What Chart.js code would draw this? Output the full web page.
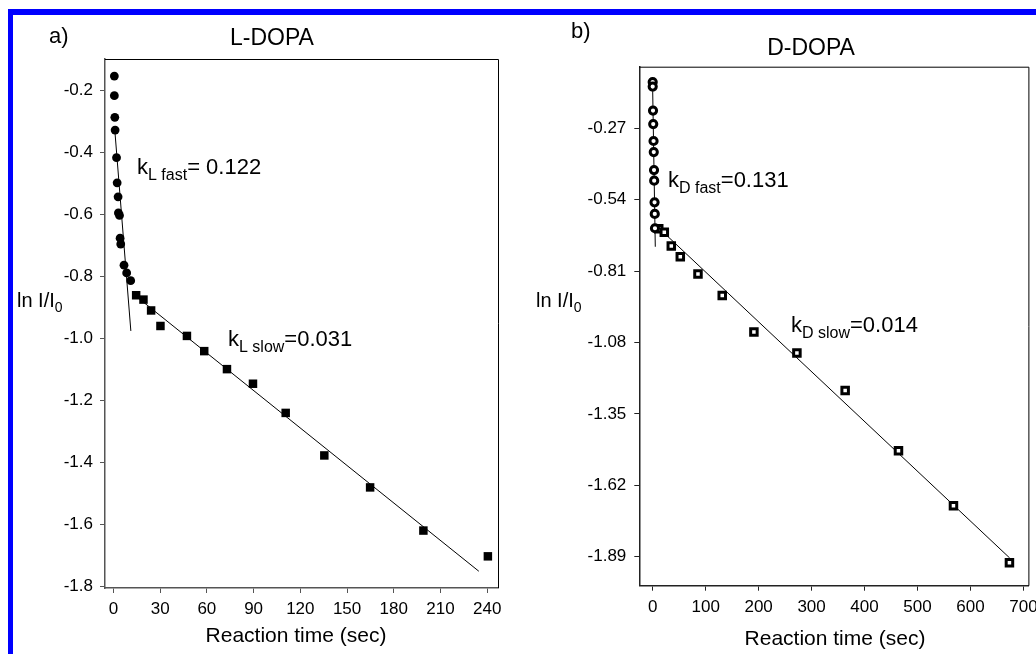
<!DOCTYPE html>
<html><head><meta charset="utf-8">
<script src="https://cdn.jsdelivr.net/npm/chart.js@4.4.0/dist/chart.umd.min.js"></script>
<style>
html,body{margin:0;padding:0;background:#fff;overflow:hidden;width:1036px;height:654px;position:relative;}
#frame{position:absolute;left:8px;top:9px;width:1100px;height:700px;border-left:5px solid #0000ff;border-top:6px solid #0000ff;box-sizing:border-box;}
canvas{position:absolute;top:0;}
</style></head><body>
<div id="frame"></div>
<canvas id="c1" width="518" height="654" style="left:0"></canvas>
<canvas id="c2" width="518" height="654" style="left:518px"></canvas>
<script>
// ---------- L-DOPA data ----------
const lFastTime = [0.6, 0.6, 0.9, 1.1, 2.0, 2.4, 3.0, 3.2, 3.9, 4.3, 4.7, 6.8, 8.5, 11.1];
const lFastLn   = [-0.155, -0.218, -0.288, -0.329, -0.418, -0.499, -0.544, -0.596, -0.604, -0.677, -0.696, -0.764, -0.789, -0.814];
const lSlowTime = [14.6, 19.3, 24.2, 30.2, 47.2, 58.3, 72.9, 89.6, 110.6, 135.4, 164.8, 199.0, 240.4];
const lSlowLn   = [-0.861, -0.875, -0.910, -0.960, -0.992, -1.041, -1.099, -1.146, -1.240, -1.377, -1.480, -1.619, -1.702];
const lFastFitTime = [0.9, 11.2];
const lFastFitLn   = [-0.33, -0.976];
const lSlowFitTime = [15, 234.6];
const lSlowFitLn   = [-0.866, -1.750];
const lXTicks = [0, 30, 60, 90, 120, 150, 180, 210, 240];
const lYTicks = [-0.2, -0.4, -0.6, -0.8, -1.0, -1.2, -1.4, -1.6, -1.8];

// ---------- D-DOPA data ----------
const dFastTime = [0, 0, 0.6, 1.0, 1.6, 2.0, 2.5, 2.8, 3.5, 3.9, 4.3];
const dFastLn   = [-0.095, -0.112, -0.203, -0.254, -0.318, -0.360, -0.428, -0.468, -0.550, -0.594, -0.648];
const dSlowTime = [11.4, 21.9, 35.1, 52.1, 85.5, 131.3, 191.1, 272.3, 363.4, 464.1, 567.9, 673.6];
const dSlowLn   = [-0.650, -0.663, -0.715, -0.756, -0.821, -0.902, -1.040, -1.120, -1.262, -1.490, -1.698, -1.913];
const dFastFitTime = [0, 4.9];
const dFastFitLn   = [-0.13, -0.718];
const dSlowFitTime = [12, 674];
const dSlowFitLn   = [-0.648, -1.895];
const dXTicks = [0, 100, 200, 300, 400, 500, 600, 700];
const dYTicks = [-0.27, -0.54, -0.81, -1.08, -1.35, -1.62, -1.89];

const FONT = "'Liberation Sans', Arial, sans-serif";
const pts = (xs, ys) => xs.map((x, i) => ({x: x, y: ys[i]}));

const textPlugin = {
  id: 'texts',
  afterDraw(chart, args, opts) {
    const ctx = chart.ctx;
    const ca = chart.chartArea;
    ctx.save();
    ctx.strokeStyle = opts.boxColor || '#000';
    ctx.lineWidth = 1;
    ctx.beginPath();
    ctx.moveTo(ca.left, ca.top + 0.5);
    ctx.lineTo(ca.right + 0.5, ca.top + 0.5);
    ctx.lineTo(ca.right + 0.5, ca.bottom);
    ctx.stroke();
    ctx.fillStyle = '#000';
    ctx.textBaseline = 'alphabetic';
    for (const item of opts.items) {
      let total = 0;
      for (const p of item.parts) {
        ctx.font = p.size + 'px ' + FONT;
        total += ctx.measureText(p.t).width;
      }
      let x = item.x;
      if (item.align === 'center') x -= total / 2;
      ctx.textAlign = 'left';
      for (const p of item.parts) {
        ctx.font = p.size + 'px ' + FONT;
        ctx.fillText(p.t, x, item.y + (p.dy || 0));
        x += ctx.measureText(p.t).width;
      }
    }
    ctx.restore();
  }
};

function makeChart(id, c) {
  return new Chart(document.getElementById(id), {
    type: 'scatter',
    data: {datasets: c.datasets},
    options: {
      responsive: false, animation: false, devicePixelRatio: 1,
      layout: {padding: {left: 0, top: c.top, right: c.right, bottom: 0}},
      plugins: {legend: {display: false}, tooltip: {enabled: false}, texts: {items: c.texts, boxColor: '#000'}},
      scales: {
        x: {
          type: 'linear', min: c.xMin, max: c.xMax,
          afterBuildTicks: s => { s.ticks = c.xTicks.map(v => ({value: v})); },
          afterFit: s => { s.height = c.xAxisH; s.paddingLeft = 0; s.paddingRight = 0; },
          ticks: {font: {family: FONT, size: 17}, color: '#000', padding: 6, maxRotation: 0, autoSkip: false,
                  callback: v => String(v)},
          grid: {drawOnChartArea: false, tickLength: 5, color: c.axisColor, tickWidth: 1},
          border: {color: c.axisColor, width: 1.5}
        },
        y: {
          type: 'linear', min: c.yMin, max: c.yMax,
          afterBuildTicks: s => { s.ticks = c.yTicks.map(v => ({value: v})); },
          afterFit: s => { s.width = c.yAxisW; s.paddingTop = 0; s.paddingBottom = 0; },
          ticks: {font: {family: FONT, size: 17}, color: '#000', padding: c.yPad, autoSkip: false,
                  callback: v => v.toFixed(c.yDec)},
          grid: {drawOnChartArea: false, tickLength: 5, color: c.axisColor, tickWidth: 1},
          border: {color: c.axisColor, width: 1.5}
        }
      }
    },
    plugins: [textPlugin]
  });
}

const lineDs = (xs, ys) => ({data: pts(xs, ys), showLine: true, borderColor: '#000', borderWidth: 1,
  pointRadius: 0, fill: false});

makeChart('c1', {
  top: 59, right: 20, xAxisH: 66, yAxisW: 105, yPad: 7, yDec: 1, axisColor: '#555',
  xMin: -5.4, xMax: 246.9, yMin: -1.804, yMax: -0.1, xTicks: lXTicks, yTicks: lYTicks,
  datasets: [
    {data: pts(lFastTime, lFastLn), pointStyle: 'circle', pointRadius: 4.4, backgroundColor: '#000', borderWidth: 0},
    {data: pts(lSlowTime, lSlowLn), pointStyle: 'rect', pointRadius: 6, backgroundColor: '#000', borderWidth: 0},
    lineDs(lFastFitTime, lFastFitLn),
    lineDs(lSlowFitTime, lSlowFitLn)
  ],
  texts: [
    {x: 49, y: 43, parts: [{t: 'a)', size: 22}]},
    {x: 272, y: 45, align: 'center', parts: [{t: 'L-DOPA', size: 23}]},
    {x: 17, y: 307, parts: [{t: 'ln I/I', size: 20}, {t: '0', size: 14, dy: 5}]},
    {x: 137, y: 174, parts: [{t: 'k', size: 22}, {t: 'L fast', size: 16, dy: 6}, {t: '= 0.122', size: 22}]},
    {x: 228, y: 346, parts: [{t: 'k', size: 22}, {t: 'L slow', size: 16, dy: 6}, {t: '=0.031', size: 22}]},
    {x: 296, y: 642, align: 'center', parts: [{t: 'Reaction time (sec)', size: 21}]}
  ]
});

makeChart('c2', {
  top: 66.7, right: 7.3, xAxisH: 68.3, yAxisW: 121.3, yPad: 8, yDec: 2, axisColor: '#222',
  xMin: -25.3, xMax: 709.4, yMin: -2.0, yMax: -0.037, xTicks: dXTicks, yTicks: dYTicks,
  datasets: [
    {data: pts(dFastTime, dFastLn), pointStyle: 'circle', pointRadius: 3.6, backgroundColor: '#fff', borderColor: '#000', borderWidth: 3},
    {data: pts(dSlowTime, dSlowLn), pointStyle: 'rect', pointRadius: 4.6, backgroundColor: '#fff', borderColor: '#000', borderWidth: 3},
    lineDs(dFastFitTime, dFastFitLn),
    lineDs(dSlowFitTime, dSlowFitLn)
  ],
  texts: [
    {x: 53, y: 38, parts: [{t: 'b)', size: 22}]},
    {x: 293, y: 55, align: 'center', parts: [{t: 'D-DOPA', size: 23}]},
    {x: 18, y: 307, parts: [{t: 'ln I/I', size: 20}, {t: '0', size: 14, dy: 5}]},
    {x: 150, y: 187, parts: [{t: 'k', size: 22}, {t: 'D fast', size: 16, dy: 6}, {t: '=0.131', size: 22}]},
    {x: 273, y: 332, parts: [{t: 'k', size: 22}, {t: 'D slow', size: 16, dy: 6}, {t: '=0.014', size: 22}]},
    {x: 317, y: 645, align: 'center', parts: [{t: 'Reaction time (sec)', size: 21}]}
  ]
});
</script>
</body></html>
